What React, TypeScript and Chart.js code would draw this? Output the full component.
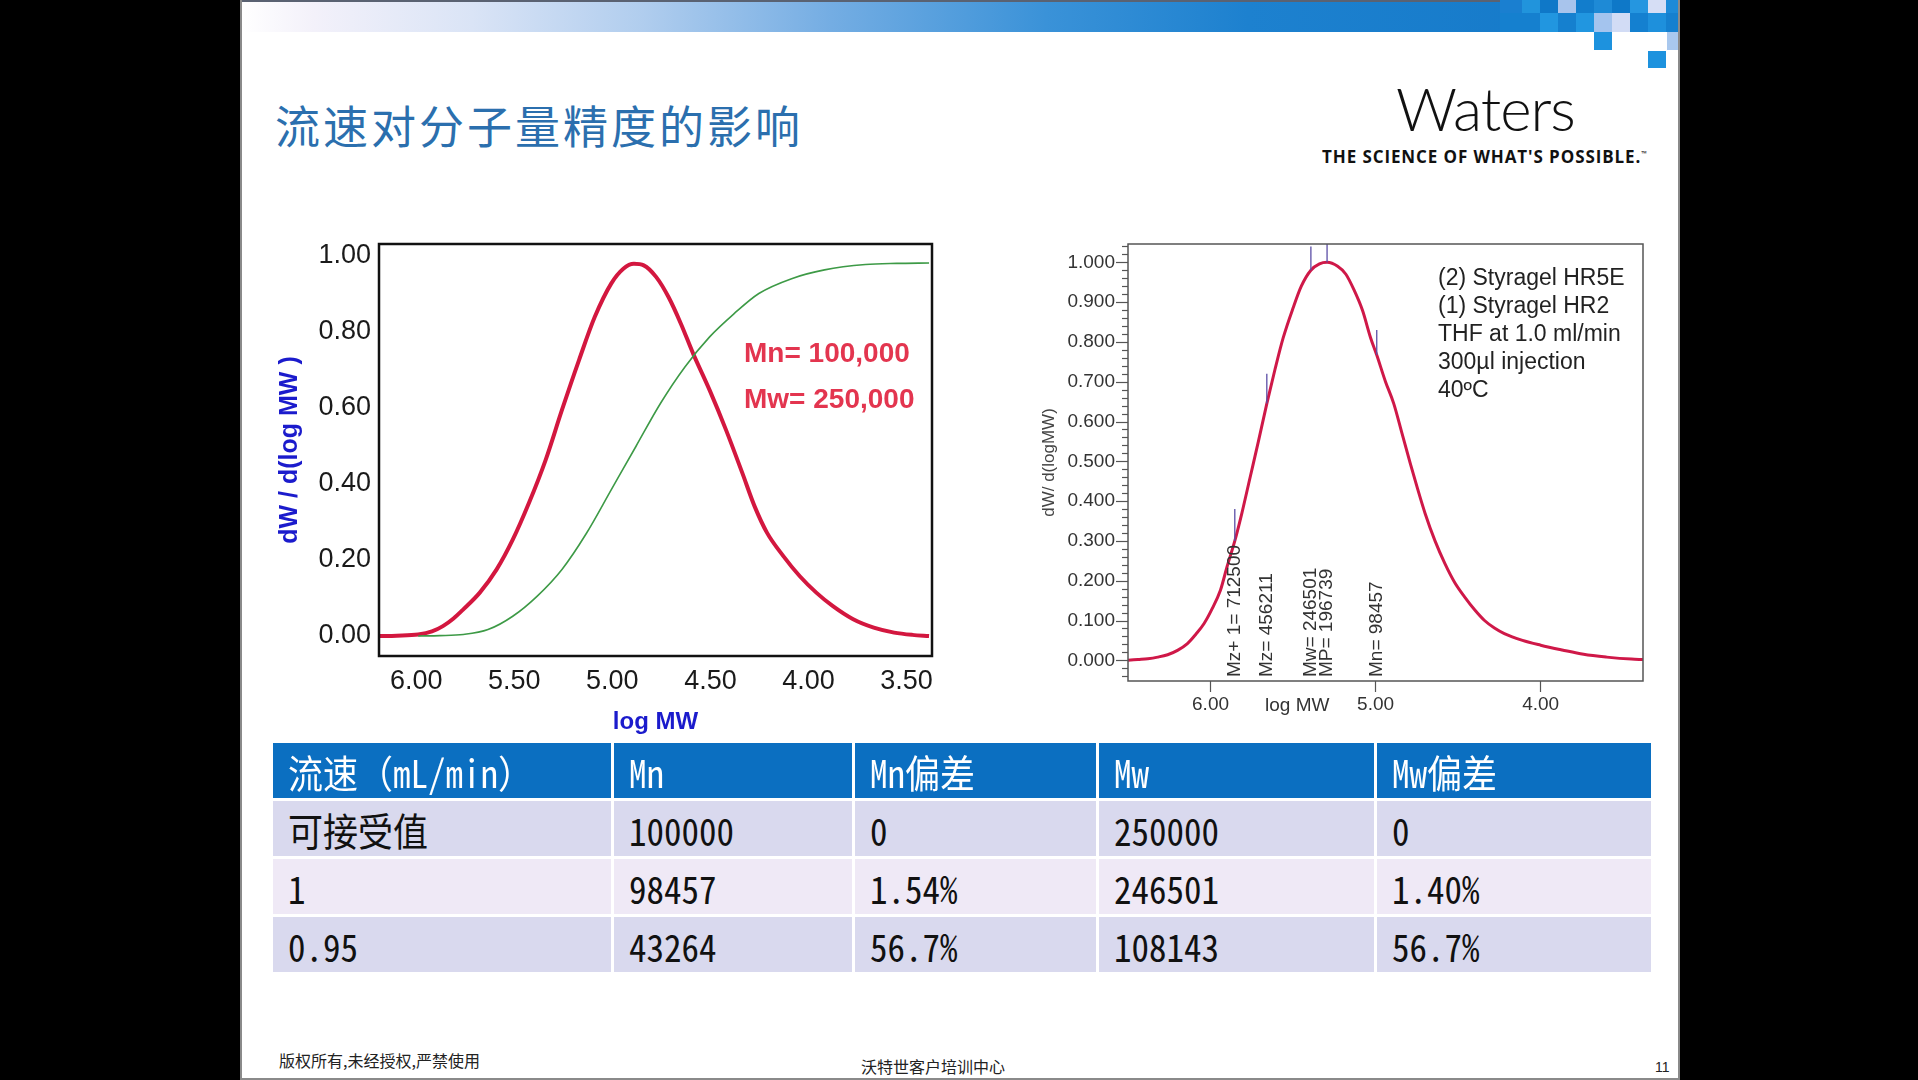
import React, { useEffect, useRef } from "react";
import { Chart, registerables } from "chart.js";
Chart.register(...registerables);

// ---------- DATA ----------
// Left chart: red distribution curve (log MW, dW/dlogMW)
const leftRedX = [6.19, 6.1, 5.99, 5.92, 5.864, 5.81, 5.76, 5.676, 5.59, 5.508, 5.425, 5.34, 5.257, 5.17, 5.09, 5.006, 4.944, 4.89, 4.84, 4.776, 4.713, 4.65, 4.588, 4.504, 4.42, 4.337, 4.274, 4.211, 4.128, 4.044, 3.96, 3.877, 3.772, 3.667, 3.563, 3.47, 3.385];
const leftRedY = [0.0, 0.001, 0.004, 0.012, 0.026, 0.046, 0.07, 0.114, 0.175, 0.253, 0.35, 0.463, 0.594, 0.725, 0.838, 0.926, 0.965, 0.978, 0.974, 0.943, 0.89, 0.82, 0.742, 0.646, 0.541, 0.428, 0.34, 0.271, 0.21, 0.157, 0.114, 0.079, 0.044, 0.022, 0.009, 0.003, 0.0];
// Left chart: green cumulative curve
const leftGreenX = [5.99, 5.88, 5.76, 5.634, 5.508, 5.383, 5.257, 5.132, 5.006, 4.88, 4.755, 4.63, 4.504, 4.379, 4.253, 4.086, 3.918, 3.709, 3.55, 3.385];
const leftGreenY = [0.0, 0.001, 0.004, 0.017, 0.052, 0.105, 0.175, 0.27, 0.384, 0.498, 0.611, 0.707, 0.786, 0.847, 0.9, 0.939, 0.962, 0.976, 0.979, 0.98];
const leftNotes = ["Mn= 100,000", "Mw= 250,000"];

// Right chart: distribution curve
const rightX = [6.5, 6.44, 6.38, 6.32, 6.26, 6.2, 6.14, 6.09, 6.04, 5.99, 5.94, 5.9, 5.853, 5.81, 5.76, 5.71, 5.659, 5.61, 5.56, 5.5, 5.45, 5.392, 5.34, 5.294, 5.23, 5.18, 5.13, 5.08, 5.03, 4.993, 4.94, 4.89, 4.84, 4.79, 4.745, 4.7, 4.64, 4.58, 4.52, 4.46, 4.4, 4.34, 4.28, 4.22, 4.11, 4.0, 3.87, 3.74, 3.6, 3.45, 3.38];
const rightY = [0.0, 0.002, 0.004, 0.008, 0.014, 0.025, 0.042, 0.065, 0.092, 0.13, 0.176, 0.235, 0.3, 0.37, 0.46, 0.55, 0.645, 0.73, 0.81, 0.885, 0.94, 0.98, 0.996, 1.0, 0.99, 0.97, 0.93, 0.88, 0.81, 0.767, 0.7, 0.645, 0.57, 0.495, 0.43, 0.369, 0.3, 0.243, 0.195, 0.159, 0.127, 0.1, 0.081, 0.067, 0.05, 0.038, 0.026, 0.015, 0.008, 0.003, 0.002];
// Right chart: molecular weight averages markers
const markerLabels = ["Mz+ 1= 712500", "Mz= 456211", "Mw= 246501", "MP= 196739", "Mn= 98457"];
const markerLogMW = [5.853, 5.659, 5.392, 5.294, 4.993];
const markerBase = [0.3, 0.645, 0.98, 1.0, 0.767];
const markerTop = [0.38, 0.72, 1.04, 1.046, 0.83];
const rightInfo = ["(2) Styragel HR5E", "(1) Styragel HR2", "THF at 1.0 ml/min", "300µl injection", "40ºC"];

// Table
const tableHeader = ["流速（mL/min）", "Mn", "Mn偏差", "Mw", "Mw偏差"];
const flowRates = ["可接受值", "1", "0.95"];
const mnValues = ["100000", "98457", "43264"];
const mnDev = ["0", "1.54%", "56.7%"];
const mwValues = ["250000", "246501", "108143"];
const mwDev = ["0", "1.40%", "56.7%"];

// ---------- STYLE ----------
const SANS = "'Liberation Sans', Arial, sans-serif";
const CJK = "'Noto Sans CJK SC', sans-serif";
const CJK_MONO = "'Noto Sans Mono CJK SC', 'Noto Sans CJK SC', sans-serif";

const pts = (xs: number[], ys: number[]) => xs.map((x, i) => ({ x, y: ys[i] }));

const framePlugin = (color: string, width: number) => ({
  id: "frame",
  afterDraw(chart: any) {
    const { ctx, chartArea: a } = chart;
    ctx.save();
    ctx.strokeStyle = color;
    ctx.lineWidth = width;
    ctx.strokeRect(a.left, a.top, a.right - a.left, a.bottom - a.top);
    ctx.restore();
  },
});

const leftNotesPlugin = {
  id: "leftNotes",
  afterDraw(chart: any) {
    const { ctx, chartArea: a } = chart;
    ctx.save();
    ctx.fillStyle = "#e3354f";
    ctx.font = `bold 28px ${SANS}`;
    ctx.textBaseline = "middle";
    ctx.textAlign = "left";
    leftNotes.forEach((t, i) => ctx.fillText(t, a.left + 365, a.top + 110 + i * 46));
    ctx.restore();
  },
};

const rightDecorPlugin = {
  id: "rightDecor",
  afterDraw(chart: any) {
    const { ctx, chartArea: a, scales } = chart;
    const ys = scales.y;
    ctx.save();
    ctx.strokeStyle = "#555";
    ctx.lineWidth = 1.2;
    for (let i = -2; i <= 52; i++) {
      const v = i * 0.02;
      const py = Math.round(ys.getPixelForValue(v)) + 0.5;
      const len = i % 5 === 0 ? 12 : 6;
      ctx.beginPath();
      ctx.moveTo(a.left - len, py);
      ctx.lineTo(a.left, py);
      ctx.stroke();
    }
    ctx.fillStyle = "#333";
    ctx.font = `19px ${SANS}`;
    ctx.textBaseline = "middle";
    ctx.textAlign = "left";
    markerLabels.forEach((t, i) => {
      const px = scales.x.getPixelForValue(markerLogMW[i]);
      ctx.save();
      ctx.translate(px, a.bottom - 4);
      ctx.rotate(-Math.PI / 2);
      ctx.fillText(t, 0, 0);
      ctx.restore();
    });
    ctx.restore();
  },
};

const fitY = (w: number) => (s: any) => { s.width = w; s.paddingTop = 0; s.paddingBottom = 0; };
const fitX = (h: number) => (s: any) => { s.height = h; s.paddingLeft = 0; s.paddingRight = 0; };

function LeftChart() {
  const ref = useRef<HTMLCanvasElement>(null);
  useEffect(() => {
    const chart = new Chart(ref.current!, {
      type: "line",
      data: {
        datasets: [
          { data: pts(leftGreenX, leftGreenY), borderColor: "#3d9a46", borderWidth: 1.6, pointRadius: 0, cubicInterpolationMode: "monotone" },
          { data: pts(leftRedX, leftRedY), borderColor: "#d3173f", borderWidth: 4, pointRadius: 0, cubicInterpolationMode: "monotone" },
        ],
      },
      options: {
        animation: false,
        responsive: false,
        events: [],
        layout: { padding: { top: 14, right: 18, left: 0, bottom: 0 } },
        plugins: { legend: { display: false }, tooltip: { enabled: false } },
        scales: {
          x: {
            type: "linear", reverse: true, min: 3.37, max: 6.19,
            ticks: { stepSize: 0.5, includeBounds: false, autoSkip: false, maxRotation: 0, padding: 9, color: "#1a1a1a", font: { family: SANS, size: 27 }, callback: (v: any) => Number(v).toFixed(2) },
            grid: { display: false, drawTicks: false }, border: { display: false },
            title: { display: true, text: "log MW", color: "#1b1bcc", font: { family: SANS, size: 24, weight: "bold" }, padding: { top: 0, bottom: 13 } },
            afterFit: fitX(94),
          },
          y: {
            min: -0.0525, max: 1.03,
            ticks: { stepSize: 0.2, includeBounds: false, autoSkip: false, padding: 8, color: "#1a1a1a", font: { family: SANS, size: 27 }, callback: (v: any) => Number(v).toFixed(2) },
            grid: { display: false, drawTicks: false }, border: { display: false },
            title: { display: true, text: "dW / d(log MW )", color: "#1b1bcc", font: { family: SANS, size: 25, weight: "bold" }, padding: { top: 5, bottom: 0 } },
            afterFit: fitY(109),
          },
        },
      } as any,
      plugins: [framePlugin("#111", 2.5), leftNotesPlugin],
    });
    return () => chart.destroy();
  }, []);
  return <canvas ref={ref} width={680} height={520} style={{ position: "absolute", left: 270, top: 230, width: 680, height: 520 }} />;
}

function RightChart() {
  const ref = useRef<HTMLCanvasElement>(null);
  useEffect(() => {
    const markerSets = markerLogMW.map((x, i) => ({
      data: [{ x, y: markerBase[i] }, { x, y: markerTop[i] }],
      borderColor: "#5b4ea6", borderWidth: 1.3, pointRadius: 0,
    }));
    const chart = new Chart(ref.current!, {
      type: "line",
      data: {
        datasets: [
          ...markerSets,
          { data: pts(rightX, rightY), borderColor: "#cf1848", borderWidth: 3, pointRadius: 0, cubicInterpolationMode: "monotone" },
        ],
      },
      options: {
        animation: false,
        responsive: false,
        events: [],
        layout: { padding: { top: 14, right: 17, left: 0, bottom: 0 } },
        plugins: { legend: { display: false }, tooltip: { enabled: false } },
        scales: {
          x: {
            type: "linear", reverse: true, min: 3.38, max: 6.5,
            ticks: { stepSize: 1, includeBounds: false, autoSkip: false, maxRotation: 0, padding: 1, color: "#333", font: { family: SANS, size: 19 }, callback: (v: any) => Number(v).toFixed(2) },
            grid: { drawOnChartArea: false, drawTicks: true, tickLength: 11, tickColor: "#555", tickWidth: 1.2 },
            border: { display: false },
            afterFit: fitX(49),
          },
          y: {
            min: -0.052, max: 1.046,
            ticks: { stepSize: 0.1, includeBounds: false, autoSkip: false, padding: 13, color: "#333", font: { family: SANS, size: 19 }, callback: (v: any) => Number(v).toFixed(3) },
            grid: { display: false, drawTicks: false }, border: { display: false },
            title: { display: true, text: "dW/ d(logMW)", color: "#444", font: { family: SANS, size: 17 }, padding: { top: 9, bottom: 0 } },
            afterFit: fitY(98),
          },
        },
      } as any,
      plugins: [framePlugin("#555", 1.5), rightDecorPlugin],
    });
    return () => chart.destroy();
  }, []);
  return <canvas ref={ref} width={630} height={500} style={{ position: "absolute", left: 1030, top: 230, width: 630, height: 500 }} />;
}

const Txt = ({ x, cy, size, children, style }: any) => (
  <div style={{ position: "absolute", left: x, top: cy - size * 0.6, height: size * 1.2, lineHeight: `${size * 1.2}px`, fontSize: size, whiteSpace: "nowrap", ...style }}>{children}</div>
);

// decorative squares in the top bar: [x, y, w, h, color]
const squares: [number, number, number, number, string][] = [
  [1500, 0, 22, 13, "#1a7fd0"], [1522, 0, 18, 13, "#2194dc"], [1540, 0, 18, 13, "#0f78c8"], [1558, 0, 18, 13, "#a8c4ec"],
  [1576, 0, 18, 13, "#127dcc"], [1594, 0, 18, 13, "#1e8ad6"], [1612, 0, 18, 13, "#0e78c8"], [1630, 0, 18, 13, "#2596e0"],
  [1648, 0, 18, 13, "#d6def5"], [1666, 0, 12, 13, "#1c8ad8"],
  [1500, 13, 40, 19, "#1580cf"], [1540, 13, 18, 19, "#2196e0"], [1558, 13, 18, 19, "#1580cf"], [1576, 13, 18, 19, "#2196e0"],
  [1594, 13, 18, 19, "#a4c4ee"], [1612, 13, 18, 19, "#d2dcf5"], [1630, 13, 18, 19, "#1480d0"], [1648, 13, 18, 19, "#1e90dc"],
  [1666, 13, 12, 19, "#1580cf"],
  [1594, 32, 18, 18, "#1d92de"], [1648, 51, 18, 17, "#1d92de"], [1667, 32, 11, 18, "#a9c8ee"],
];

const colW = [338, 238, 241, 275, 274];
const rowH = [55, 55, 55, 55];
const rowBg = ["#d9d9ee", "#efe9f6", "#d9d9ee"];

export default function App() {
  useEffect(() => {
    document.body.style.margin = "0";
  }, []);
  const tableRows = flowRates.map((f, i) => [f, mnValues[i], mnDev[i], mwValues[i], mwDev[i]]);
  const colX: number[] = [];
  let acc = 273;
  colW.forEach((w) => { colX.push(acc); acc += w + 3; });
  const rowY: number[] = [];
  let accY = 743;
  rowH.forEach((h) => { rowY.push(accY); accY += h + 3; });
  const cellText = { fontFamily: CJK_MONO, transform: "scaleY(1.1)", transformOrigin: "left center" };
  return (
    <div style={{ position: "fixed", left: 0, top: 0, width: 1918, height: 1080, background: "#000", overflow: "hidden" }}>
      <div style={{ position: "absolute", left: 240, top: 0, width: 1440, height: 1080, background: "#fff", boxSizing: "border-box", borderLeft: "2px solid #8a8a8a", borderRight: "2px solid #8a8a8a", borderBottom: "2px solid #8a8a8a" }} />
      <div style={{ position: "absolute", left: 242, top: 0, width: 1436, height: 32, borderTop: "2px solid #5a6272", boxSizing: "border-box",
        background: "linear-gradient(to right, #ffffff 0%, #f3f1fa 5%, #dae4f6 16%, #b0cdee 28%, #74ade3 41%, #3a92d8 56%, #1d81cf 70%, #1378c8 100%)" }} />
      {squares.map(([x, y, w, h, c], i) => (
        <div key={i} style={{ position: "absolute", left: x, top: y, width: w, height: h, background: c }} />
      ))}
      <Txt x={275} cy={125} size={45} style={{ fontFamily: CJK, color: "#2b6fae", letterSpacing: 3 }}>流速对分子量精度的影响</Txt>
      <Txt x={1396} cy={108} size={60} style={{ fontFamily: "Lato, 'Open Sans', sans-serif", fontWeight: 300, color: "#111", letterSpacing: -1 }}>Waters</Txt>
      <Txt x={1322} cy={154} size={17} style={{ fontFamily: "'Open Sans', Lato, sans-serif", fontWeight: 700, color: "#111", letterSpacing: 0.9 }}>
        THE SCIENCE OF WHAT'S POSSIBLE.<sup style={{ fontSize: 7 }}>™</sup>
      </Txt>
      <LeftChart />
      <RightChart />
      {rightInfo.map((t, i) => (
        <Txt key={i} x={1438} cy={278 + i * 28} size={23} style={{ fontFamily: SANS, color: "#222" }}>{t}</Txt>
      ))}
      <Txt x={1265} cy={705} size={19} style={{ fontFamily: SANS, color: "#333" }}>log MW</Txt>
      {tableHeader.map((h, j) => (
        <div key={"h" + j} style={{ position: "absolute", left: colX[j], top: rowY[0], width: colW[j], height: rowH[0], background: "#0b6fc1" }}>
          <Txt x={15} cy={rowH[0] / 2} size={35} style={{ ...cellText, color: "#fff" }}>{h}</Txt>
        </div>
      ))}
      {tableRows.map((r, i) =>
        r.map((c, j) => (
          <div key={i + "-" + j} style={{ position: "absolute", left: colX[j], top: rowY[i + 1], width: colW[j], height: rowH[i + 1], background: rowBg[i] }}>
            <Txt x={15} cy={rowH[i + 1] / 2} size={35} style={{ ...cellText, color: "#111" }}>{c}</Txt>
          </div>
        ))
      )}
      <Txt x={279} cy={1061} size={16} style={{ fontFamily: CJK, color: "#222" }}>版权所有,未经授权,严禁使用</Txt>
      <Txt x={861} cy={1067} size={16} style={{ fontFamily: CJK, color: "#222" }}>沃特世客户培训中心</Txt>
      <Txt x={1655} cy={1067} size={14} style={{ fontFamily: SANS, color: "#222" }}>11</Txt>
    </div>
  );
}
